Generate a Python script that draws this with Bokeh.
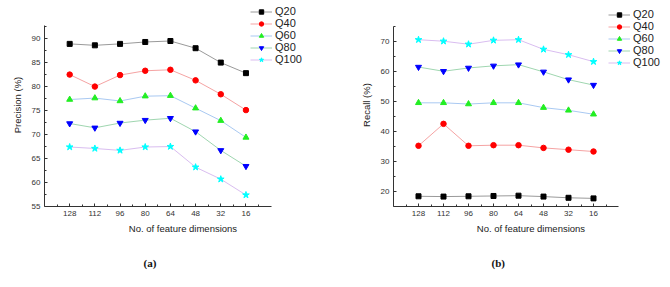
from bokeh.plotting import figure
from bokeh.layouts import row
from bokeh.models import FixedTicker, Legend, Title
from bokeh.embed import file_html
from bokeh.resources import INLINE

dims = ["128", "112", "96", "80", "64", "48", "32", "16"]
series = ["Q20", "Q40", "Q60", "Q80", "Q100"]

prec_q20 = [88.9, 88.6, 88.9, 89.3, 89.5, 88.0, 85.0, 82.8]
prec_q40 = [82.5, 80.0, 82.4, 83.3, 83.5, 81.3, 78.4, 75.1]
prec_q60 = [77.3, 77.6, 77.0, 78.0, 78.1, 75.5, 72.9, 69.4]
prec_q80 = [72.3, 71.4, 72.4, 73.0, 73.4, 70.6, 66.7, 63.4]
prec_q100 = [67.4, 67.1, 66.7, 67.4, 67.5, 63.2, 60.7, 57.4]

rec_q20 = [18.4, 18.3, 18.4, 18.5, 18.6, 18.3, 17.9, 17.7]
rec_q40 = [35.2, 42.5, 35.2, 35.4, 35.4, 34.5, 33.9, 33.3]
rec_q60 = [49.5, 49.5, 49.1, 49.5, 49.5, 47.9, 47.0, 45.7]
rec_q80 = [61.4, 60.0, 61.1, 61.8, 62.2, 59.8, 57.2, 55.4]
rec_q100 = [70.5, 70.0, 69.0, 70.3, 70.5, 67.3, 65.5, 63.2]

prec_ticks = [55, 60, 65, 70, 75, 80, 85, 90]
prec_minor = [57.5, 62.5, 67.5, 72.5, 77.5, 82.5, 87.5, 92.5]
rec_ticks = [20, 30, 40, 50, 60, 70]
rec_minor = [15, 25, 35, 45, 55, 65, 75]

line_colors = ["#9a9a9a", "#f5a3a3", "#a9c9f2", "#9fd6b0", "#d9bdf0"]
marker_colors = ["#000000", "#ff0000", "#22ee22", "#0000ff", "#00ffff"]
markers = ["square", "circle", "triangle", "inverted_triangle", "star"]
marker_sizes = [5, 5.5, 6, 6, 7]

FONT = "Liberation Sans"
xs = list(range(1, len(dims) + 1))


def make_panel(data, ylab, yrange, ybounds, yticks, yminor, frame_w, borders, leg_loc, tag, tag_off):
    bl, br, bt, bb = borders
    p = figure(width=bl + frame_w + br, height=287, output_backend="svg", toolbar_location=None,
               x_range=(0, 11), y_range=yrange,
               min_border_left=bl, min_border_right=br, min_border_top=bt, min_border_bottom=bb)
    p.outline_line_color = None
    p.grid.visible = False
    p.background_fill_color = "white"

    items = []
    for i, name in enumerate(series):
        r1 = p.line(xs, data[i], line_color=line_colors[i], line_width=1)
        r2 = p.scatter(xs, data[i], marker=markers[i], size=marker_sizes[i],
                       fill_color=marker_colors[i], line_color=marker_colors[i])
        items.append((name, [r1, r2]))

    legend = Legend(items=items, location=leg_loc, padding=0, margin=0, spacing=0,
                    glyph_height=11, label_height=11, glyph_width=22, label_standoff=3,
                    border_line_alpha=0, background_fill_alpha=0,
                    label_text_font=FONT, label_text_font_size="11px", label_text_color="#222")
    p.add_layout(legend, "center")

    p.xaxis.ticker = FixedTicker(ticks=xs, minor_ticks=[k + 0.5 for k in range(0, 9)])
    p.xaxis.major_label_overrides = {x: d for x, d in zip(xs, dims)}
    p.xaxis.bounds = (0, 9)
    p.yaxis.ticker = FixedTicker(ticks=yticks, minor_ticks=yminor)
    p.yaxis.bounds = ybounds

    for ax in (p.xaxis[0], p.yaxis[0]):
        ax.axis_line_color = "#333333"
        ax.major_tick_line_color = "#333333"
        ax.minor_tick_line_color = "#333333"
        ax.major_tick_in = 3
        ax.major_tick_out = 0
        ax.minor_tick_in = 2
        ax.minor_tick_out = 0
        ax.major_label_text_font = FONT
        ax.major_label_text_font_size = "8px"
        ax.major_label_text_color = "#333333"
        ax.axis_label_text_font = FONT
        ax.axis_label_text_font_size = "9.5px"
        ax.axis_label_text_font_style = "normal"
        ax.axis_label_text_color = "#222222"
    p.xaxis.axis_label = "No. of feature dimensions"
    p.yaxis.axis_label = ylab
    p.xaxis.major_label_standoff = 4
    p.xaxis.axis_label_standoff = 4
    p.yaxis.major_label_standoff = 4
    p.yaxis.axis_label_standoff = 6

    t = Title(text=tag, align="left", text_font="Liberation Serif", text_font_style="bold",
              text_font_size="11px", text_color="#111111", standoff=37, offset=tag_off)
    p.add_layout(t, "below")
    return p


prec = [prec_q20, prec_q40, prec_q60, prec_q80, prec_q100]
rec = [rec_q20, rec_q40, rec_q60, rec_q80, rec_q100]

pa = make_panel(prec, "Precision (%)", (55, 97.32), (55, 92.76), prec_ticks, prec_minor,
                277, (44, 14, 3, 80), (206, 141), "(a)", 99)
pb = make_panel(rec, "Recall (%)", (15, 82.55), (15, 75), rec_ticks, rec_minor,
                275, (58, 2, 3, 80), (215, 138), "(b)", 98)

layout = row(pa, pb)
open("out.html", "w").write(file_html(layout, INLINE))
